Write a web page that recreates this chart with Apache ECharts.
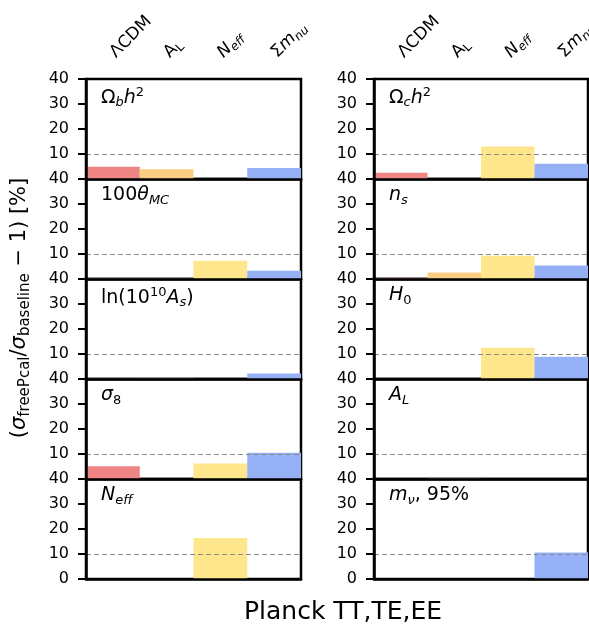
<!DOCTYPE html>
<html>
<head>
<meta charset="utf-8">
<script src="https://cdn.jsdelivr.net/npm/echarts@6/dist/echarts.min.js"></script>
<style>
  html, body { margin: 0; padding: 0; background: #fff; }
  #chart { width: 589px; height: 625px; }
</style>
</head>
<body>
<div id="chart"></div>
<script>
// 模型 (bar categories)
const categories = ['LCDM', 'AL', 'Neff', 'Smnu']
const barColors = ['#ee8484', '#fbcd82', '#fde68b', '#95b0f5']
const yTicks = [0, 10, 20, 30, 40]

// left column, values in %
const omegaBh2 = [4.9, 3.9, 0, 4.4]
const theta = [0.2, 0.2, 7.3, 3.3]
const lnAs = [0.2, 0.2, 0, 2.2]
const sigma8 = [5.1, 0, 6.2, 10.5]
const nEff = [0, 0, 16.4, 0]
// right column
const omegaCh2 = [2.5, 0, 13.0, 6.1]
const nS = [0.3, 2.6, 9.3, 5.4]
const h0 = [0, 0, 12.5, 8.9]
const aL = [0, 0.2, 0, 0]
const mNu = [0, 0, 0, 10.6]

const leftPanels = [omegaBh2, theta, lnAs, sigma8, nEff]
const rightPanels = [omegaCh2, nS, h0, aL, mNu]
const leftNames = ['{n|Ω}{subi|b}{i|h}{sup|2}', '{n|100}{i|θ}{subi|MC}', '{n|ln(10}{sup|10}{i|A}{subi|s}{n|)}', '{i|σ}{sub|8}', '{i|N}{subi|eff}']
const rightNames = ['{n|Ω}{subi|c}{i|h}{sup|2}', '{i|n}{subi|s}', '{i|H}{sub|0}', '{i|A}{subi|L}', '{i|m}{subi|ν}{n|, 95%}']
const catLabels = {
  LCDM: '{n|ΛCDM}',
  AL: '{n|A}{sub|L}',
  Neff: '{i|N}{subi|eff}',
  Smnu: '{n|Σ}{i|m}{subi|nu}'
}

const FONT = 'DejaVu Sans'
function richStyle(size) {
  const s = Math.round(size * 0.7)
  return {
    n: { fontSize: size, fontFamily: FONT, color: '#000' },
    i: { fontSize: size, fontFamily: FONT, fontStyle: 'italic', color: '#000' },
    sub: { fontSize: s, fontFamily: FONT, color: '#000', padding: [Math.round(size * 0.5), 0, 0, 0] },
    subi: { fontSize: s, fontFamily: FONT, fontStyle: 'italic', color: '#000', padding: [Math.round(size * 0.5), 0, 0, 0] },
    sup: { fontSize: s, fontFamily: FONT, color: '#000', padding: [0, 0, Math.round(size * 0.6), 0] }
  }
}

const myChart = echarts.init(document.getElementById('chart'))

const grid = [], xAxis = [], yAxis = [], series = [], graphic = []
const cols = [
  { left: 86, width: 215, data: leftPanels, names: leftNames },
  { left: 374, width: 214, data: rightPanels, names: rightNames }
]
cols.forEach((col, c) => {
  col.data.forEach((vals, r) => {
    const g = grid.length
    const top = 79 + r * 100
    grid.push({
      left: col.left, top: top, width: col.width, height: 100, outerBoundsMode: 'none',
      show: true, borderColor: '#000', borderWidth: 2.5, backgroundColor: 'transparent'
    })
    const xi = xAxis.length
    xAxis.push({
      type: 'category', gridIndex: g, data: categories, position: 'bottom', z: 10,
      axisLine: { show: true, lineStyle: { color: '#000', width: 2.5 } },
      axisTick: { show: false }, axisLabel: { show: false }
    })
    if (r === 0) {
      xAxis.push({
        type: 'category', gridIndex: g, data: categories, position: 'top',
        axisLine: { show: false }, axisTick: { show: false },
        axisLabel: {
          show: true, rotate: -45, margin: 24, interval: 0,
          formatter: v => catLabels[v],
          rich: richStyle(17)
        }
      })
    }
    yAxis.push({
      type: 'value', gridIndex: g, min: 0, max: 40, interval: 10, z: 10,
      axisLine: { show: true, lineStyle: { color: '#000', width: 2.5 } },
      axisTick: { show: true, inside: false, length: 8, lineStyle: { color: '#000', width: 2 } },
      splitLine: { show: false },
      axisLabel: {
        margin: 17, color: '#000', fontSize: 16, fontFamily: FONT,
        formatter: v => (v === 0 && r < 4) ? '' : (yTicks.indexOf(v) >= 0 ? String(v) : '')
      }
    })
    series.push({
      type: 'bar', xAxisIndex: xi, yAxisIndex: g, barWidth: '100%',
      data: vals.map((v, k) => ({ value: v, itemStyle: { color: barColors[k] } })),
      markLine: {
        silent: true, symbol: 'none', label: { show: false },
        lineStyle: { color: '#888', type: [5, 3], width: 1 },
        data: [{ yAxis: 10 }]
      }
    })
    graphic.push({
      type: 'text', left: col.left + 15, top: top + 7,
      style: { text: col.names[r], rich: richStyle(19) }
    })
  })
})

graphic.push({
  type: 'text', x: 343, y: 612,
  style: { text: 'Planck TT,TE,EE', fontSize: 25, fontFamily: FONT, fill: '#000', align: 'center', verticalAlign: 'middle' }
})
graphic.push({
  type: 'text', x: 20, y: 308, rotation: Math.PI / 2,
  style: {
    text: '{n|(}{i|σ}{sub|freePcal}{n|/}{i|σ}{sub|baseline}{n| − 1) [%]}',
    rich: richStyle(21), align: 'center', verticalAlign: 'middle'
  }
})

const option = {
  animation: false,
  backgroundColor: '#fff',
  grid: grid,
  xAxis: xAxis,
  yAxis: yAxis,
  series: series,
  graphic: graphic
}
myChart.setOption(option)
</script>
</body>
</html>
